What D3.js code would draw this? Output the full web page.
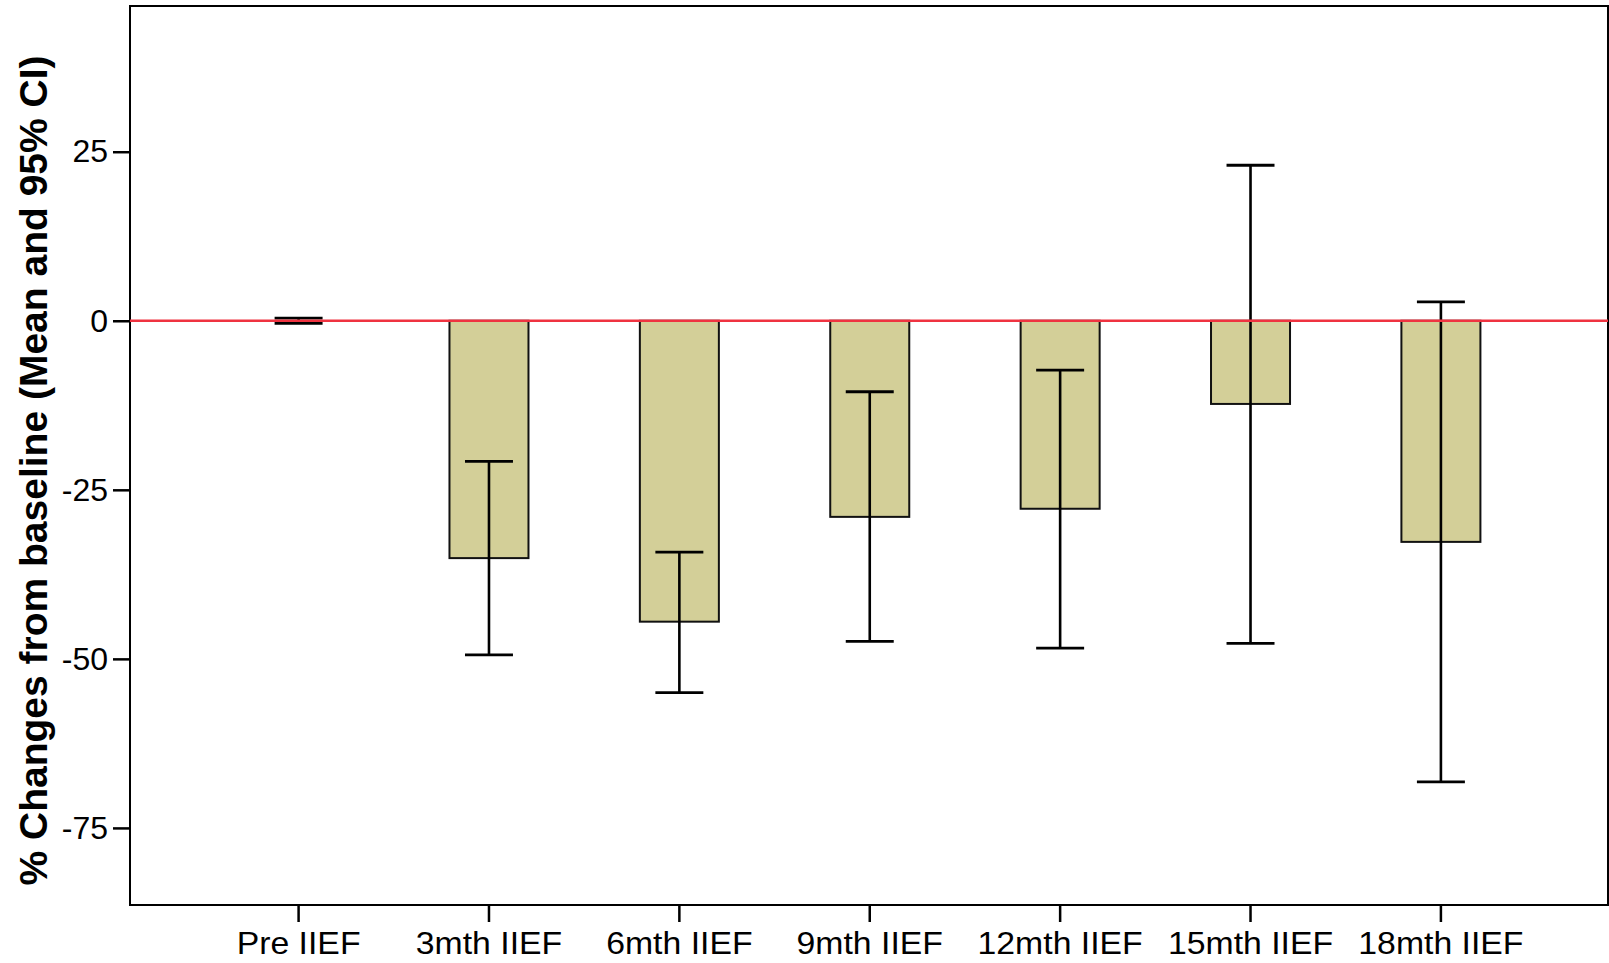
<!DOCTYPE html>
<html>
<head>
<meta charset="utf-8">
<script src="https://cdn.jsdelivr.net/npm/d3@7"></script>
<style>
  html, body { margin: 0; padding: 0; background: #fff; }
  svg { display: block; }
  text { font-family: Arial, "Liberation Sans", sans-serif; }
</style>
</head>
<body>
<svg id="chart" width="1609" height="963"></svg>
<script>
// ---- data ----
const categories = ["Pre IIEF", "3mth IIEF", "6mth IIEF", "9mth IIEF", "12mth IIEF", "15mth IIEF", "18mth IIEF"];
const means      = [0, -35.1, -44.5, -29.0, -27.8, -12.3, -32.7];
const ciLower    = [-0.4, -49.4, -55.0, -47.4, -48.4, -47.7, -68.2];
const ciUpper    = [0.4, -20.8, -34.2, -10.5, -7.3, 23.0, 2.8];
const yTicks     = [25, 0, -25, -50, -75];
const yTitle     = "% Changes from baseline (Mean and 95% CI)";
const referenceValue = 0;

// ---- layout ----
const plot = { left: 130, right: 1608, top: 6, bottom: 905 };
const svg = d3.select("#chart");

const y = d3.scaleLinear().domain([-86.4, 46.55]).range([plot.bottom, plot.top]);
const x = d3.scaleBand().domain(categories).range([203.4, 1536.1]).padding(0);
const barW = x.bandwidth() * 0.415;
const capW = x.bandwidth() * 0.252;
const cx = c => x(c) + x.bandwidth() / 2;

const data = categories.map((c, i) => ({ c, m: means[i], lo: ciLower[i], hi: ciUpper[i] }));

// bars
svg.append("g").selectAll("rect").data(data).join("rect")
  .attr("x", d => cx(d.c) - barW / 2)
  .attr("y", d => y(Math.max(0, d.m)))
  .attr("width", barW)
  .attr("height", d => Math.abs(y(d.m) - y(0)))
  .attr("fill", "#d3cf98")
  .attr("stroke", "#111")
  .attr("stroke-width", 2);

// error bars
const eg = svg.append("g").attr("stroke", "#000").attr("stroke-width", 2.8).attr("fill", "none");
data.forEach(d => {
  eg.append("line").attr("x1", cx(d.c)).attr("x2", cx(d.c)).attr("y1", y(d.lo)).attr("y2", y(d.hi)).attr("stroke-width", 2.6);
  eg.append("line").attr("x1", cx(d.c) - capW / 2).attr("x2", cx(d.c) + capW / 2).attr("y1", y(d.lo)).attr("y2", y(d.lo));
  eg.append("line").attr("x1", cx(d.c) - capW / 2).attr("x2", cx(d.c) + capW / 2).attr("y1", y(d.hi)).attr("y2", y(d.hi));
});

// frame
svg.append("rect")
  .attr("x", plot.left).attr("y", plot.top)
  .attr("width", plot.right - plot.left).attr("height", plot.bottom - plot.top)
  .attr("fill", "none").attr("stroke", "#000").attr("stroke-width", 2);

// reference line
svg.append("line")
  .attr("x1", plot.left).attr("x2", plot.right)
  .attr("y1", y(referenceValue)).attr("y2", y(referenceValue))
  .attr("stroke", "#ef3340").attr("stroke-width", 2.5);

// y axis
const yAxis = svg.append("g").attr("transform", `translate(${plot.left},0)`)
  .call(d3.axisLeft(y).tickValues(yTicks).tickSize(17).tickPadding(5).tickFormat(d => String(d)));
yAxis.select(".domain").remove();
yAxis.selectAll(".tick line").attr("stroke", "#000").attr("stroke-width", 2.5);
yAxis.selectAll(".tick text").attr("font-size", 32).attr("fill", "#000")
  .attr("font-family", "Arial, 'Liberation Sans', sans-serif");

// x axis
const xAxis = svg.append("g").attr("transform", `translate(0,${plot.bottom})`)
  .call(d3.axisBottom(x).tickSize(17).tickPadding(10));
xAxis.select(".domain").remove();
xAxis.selectAll(".tick line").attr("stroke", "#000").attr("stroke-width", 2.5);
xAxis.selectAll(".tick text").attr("font-size", 31).attr("fill", "#000")
  .attr("transform", "scale(1.09,1)")
  .attr("font-family", "Arial, 'Liberation Sans', sans-serif");

// y title
svg.append("text")
  .attr("transform", `translate(47,${(56 + 885) / 2}) rotate(-90)`)
  .attr("text-anchor", "middle")
  .attr("font-size", 39).attr("font-weight", "bold").attr("fill", "#000")
  .text(yTitle);
</script>
</body>
</html>
